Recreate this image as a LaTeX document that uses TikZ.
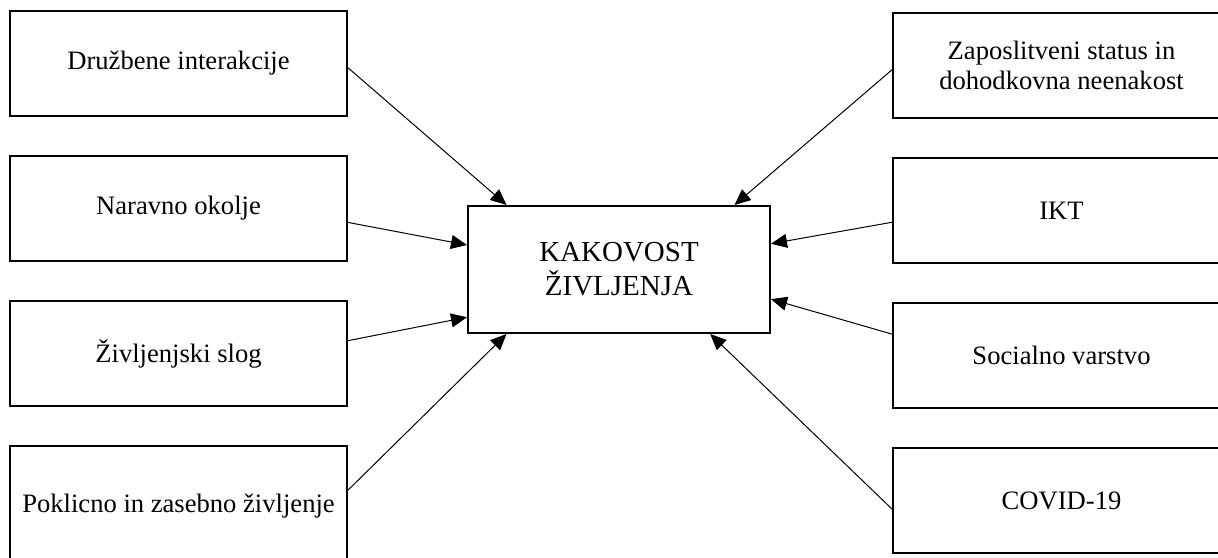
\documentclass[tikz,border=0pt]{standalone}
\usepackage{fontspec}
\setmainfont{Liberation Serif}
\usetikzlibrary{arrows.meta,positioning,calc}
\tikzset{
  factor box/.style={draw=black,line width=1pt,minimum width=168.5pt,minimum height=52.5pt,
    align=center,inner sep=4pt,font=\fontsize{13.3}{15}\selectfont},
  core box/.style={factor box,minimum width=151pt,minimum height=63.5pt,font=\fontsize{14.5}{17}\selectfont},
  factor arrow/.style={-{Triangle[length=8pt,width=7pt]},line width=0.5pt}
}
\begin{document}
\begin{tikzpicture}[x=0.5pt,y=-0.5pt,node distance=19pt]
\useasboundingbox (0,0) rectangle (1218,557);
\clip (0,0) rectangle (1218,557);
\node[core box] (q) at (619,269.5) {KAKOVOST\\ŽIVLJENJA};
% left column
\node[factor box] (l1) at (178.5,63.5) {Družbene interakcije};
\node[factor box,below=of l1] (l2) {Naravno okolje};
\node[factor box,below=of l2] (l3) {Življenjski slog};
\node[factor box,below=of l3,minimum height=60pt] (l4) {Poklicno in zasebno življenje};
% right column
\node[factor box] (r1) at (1061.5,65.5) {Zaposlitveni status in\\dohodkovna neenakost};
\node[factor box,below=of r1] (r2) {IKT};
\node[factor box,below=of r2] (r3) {Socialno varstvo};
\node[factor box,below=of r3] (r4) {COVID-19};
\draw[factor arrow] ($(l1.north east)!0.54!(l1.south east)$) -- ($(q.north west)!0.13!(q.north east)$);
\draw[factor arrow] ($(l2.north east)!0.63!(l2.south east)$) -- ($(q.north west)!0.31!(q.south west)$);
\draw[factor arrow] ($(l3.north east)!0.38!(l3.south east)$) -- ($(q.north west)!0.87!(q.south west)$);
\draw[factor arrow] ($(l4.north east)!0.37!(l4.south east)$) -- ($(q.south west)!0.13!(q.south east)$);
\draw[factor arrow] ($(r1.north west)!0.54!(r1.south west)$) -- ($(q.north west)!0.88!(q.north east)$);
\draw[factor arrow] ($(r2.north west)!0.61!(r2.south west)$) -- ($(q.north east)!0.30!(q.south east)$);
\draw[factor arrow] ($(r3.north west)!0.30!(r3.south west)$) -- ($(q.north east)!0.73!(q.south east)$);
\draw[factor arrow] ($(r4.north west)!0.58!(r4.south west)$) -- ($(q.south west)!0.80!(q.south east)$);
\end{tikzpicture}
\end{document}
